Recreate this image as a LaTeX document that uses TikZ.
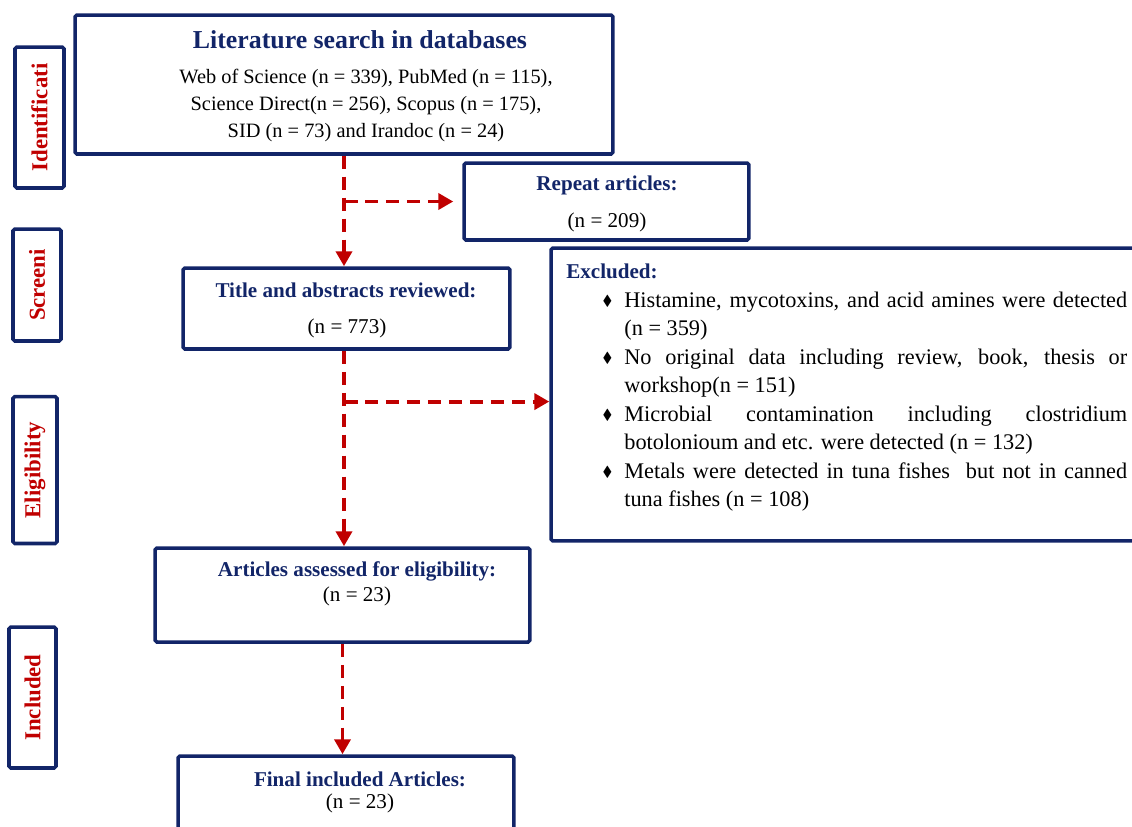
\documentclass[tikz,border=0pt]{standalone}
\usepackage{fontspec}
\setmainfont{Liberation Serif}
\usepackage{amssymb}
\usepackage{xcolor}
\usepackage{tikz}
\usetikzlibrary{positioning, arrows.meta, calc}
\definecolor{boxblue}{RGB}{18,37,104}
\definecolor{flowred}{RGB}{192,0,0}

\begin{document}
\begin{tikzpicture}[x=0.02cm, y=-0.02cm]
			\useasboundingbox (0,0) rectangle (1132,826);
			\tikzstyle{stagebox}=[draw=boxblue, line width=2pt, rounded corners=1pt, inner sep=0pt]
			\tikzstyle{sidebox}=[draw=boxblue, line width=2pt, rounded corners=1pt, inner sep=0pt, text=flowred, font=\fontsize{13}{15}\selectfont\bfseries]
			\tikzstyle{headtext}=[text=boxblue, inner sep=0pt, font=\fontsize{12}{14}\selectfont\bfseries]
			\tikzstyle{counttext}=[text=black, inner sep=0pt, font=\fontsize{12}{14}\selectfont]
			\tikzstyle{flow}=[draw=flowred, line width=2.2pt, dash pattern=on 0.27cm off 0.15cm, -{Triangle[length=0.3cm, width=0.32cm]}]
			
			% stage labels on the left
			\node (ident) at (39.5,117.5) [sidebox, minimum width=0.98cm, minimum height=2.82cm] {\rotatebox{90}{Identificati}};
			\node (screen) at (37,285) [sidebox, minimum width=0.96cm, minimum height=2.24cm] {\rotatebox{90}{Screeni}};
			\node (elig) at (35,470) [sidebox, minimum width=0.88cm, minimum height=2.94cm] {\rotatebox{90}{Eligibility}};
			\node (incl) at (32.5,697.5) [sidebox, minimum width=0.94cm, minimum height=2.82cm] {\rotatebox{90}{Included}};
			
			% boxes
			\node (lit) at (344,84.5) [stagebox, minimum width=10.76cm, minimum height=2.78cm] {};
			\node (rep) at (606.5,201.5) [stagebox, minimum width=5.7cm, minimum height=1.54cm] {};
			\node (title) at (346.5,308.5) [stagebox, minimum width=6.54cm, minimum height=1.62cm] {};
			\node (excl) at (845.5,394.5) [stagebox, minimum width=11.78cm, minimum height=5.86cm] {};
			\node (arts) at (342.5,595) [stagebox, minimum width=7.5cm, minimum height=1.88cm] {};
			\node (final) at (346,803) [stagebox, minimum width=6.72cm, minimum height=1.88cm] {};
			
			% texts
			\node (lithead) at (360,40) [headtext, font=\fontsize{14.7}{17}\selectfont\bfseries] {Literature search in databases};
			\node (litbody) at (366,105.5) [counttext, align=center, font=\fontsize{11.6}{15.6}\selectfont] {Web of Science (n = 339), PubMed (n = 115),\\ Science Direct(n = 256), Scopus (n = 175),\\ SID (n = 73) and Irandoc (n = 24)};
			\node (rephead) at (607,185) [headtext] {Repeat articles:};
			\node (repn) at (607,222) [counttext] {(n = 209)};
			\node (titlehead) at (346,290) [headtext] {Title and abstracts reviewed:};
			\node (titlen) at (347,328) [counttext] {(n = 773)};
			\node (artshead) at (357,571) [headtext] {Articles assessed for eligibility:};
			\node (artsn) at (357,596) [counttext] {(n = 23)};
			\node (finalhead) at (360,779) [headtext] {Final included Articles:};
			\node (finaln) at (360,803) [counttext] {(n = 23)};
			
			\node (excltext) at (566,264) [anchor=north west, inner sep=0pt, text width=11.22cm, align=justify, font=\fontsize{12.7}{16.2}\selectfont] {%
				{\color{boxblue}\bfseries\fontsize{12}{16.2}\selectfont Excluded:}
				\begin{list}{\raisebox{0.2ex}{\scalebox{0.65}{$\blacklozenge$}}}{\setlength{\leftmargin}{1.16cm}\setlength{\labelsep}{0.24cm}\setlength{\itemsep}{0pt}\setlength{\parsep}{0pt}\setlength{\topsep}{0pt}\setlength{\partopsep}{0pt}}
				\item Histamine, mycotoxins, and acid amines were detected\linebreak (n = 359)
				\item No original data including review, book, thesis or\linebreak workshop(n = 151)
				\item Microbial contamination including clostridium\linebreak botolonioum and etc. were detected (n = 132)
				\item Metals were detected in tuna fishes\ \ but not in canned\linebreak tuna fishes (n = 108)
				\end{list}};
			
			% connectors
			\coordinate (split1) at (lit.south |- rep.west);
			\coordinate (split2) at ($(lit.south |- title.south)!0.26!(lit.south |- arts.north)$);
			\draw [flow] (lit.south) -- (lit.south |- title.north);
			\draw [flow, shorten >=0.18cm] (split1) -- (rep.west);
			\draw [flow] (lit.south |- title.south) -- (lit.south |- arts.north);
			\draw [flow] (split2) -- (split2 -| excl.west);
			\draw [flow] (arts.south) -- (arts.south |- final.north);
\end{tikzpicture}
\end{document}
